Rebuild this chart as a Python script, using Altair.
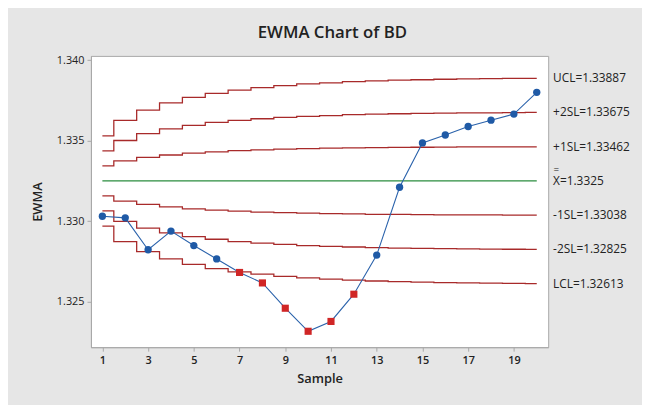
import altair as alt
import pandas as pd

# ---- data ----
samples = list(range(1, 21))
ewma = [1.33031, 1.33021, 1.32823, 1.32939, 1.32849, 1.32766, 1.32682, 1.32617,
        1.32460, 1.32317, 1.32378, 1.32547, 1.32790, 1.33211, 1.33486, 1.33535,
        1.33588, 1.33627, 1.33665, 1.33800]
flagged = [False]*6 + [True]*6 + [False]*8

center = 1.3325
ucl = [1.33530, 1.33626, 1.33689, 1.33734, 1.33768, 1.33794, 1.33814, 1.33829, 1.33842, 1.33852,
       1.33859, 1.33866, 1.33871, 1.33875, 1.33878, 1.33881, 1.33883, 1.33885, 1.33886, 1.33887]
p2sl = [1.33437, 1.33501, 1.33543, 1.33573, 1.33595, 1.33613, 1.33626, 1.33636, 1.33645, 1.33651,
        1.33656, 1.33661, 1.33664, 1.33667, 1.33669, 1.33671, 1.33672, 1.33673, 1.33674, 1.33675]
p1sl = [1.33343, 1.33375, 1.33396, 1.33411, 1.33423, 1.33431, 1.33438, 1.33443, 1.33447, 1.33451,
        1.33453, 1.33455, 1.33457, 1.33458, 1.33459, 1.33460, 1.33461, 1.33462, 1.33462, 1.33462]
m1sl = [1.33157, 1.33125, 1.33104, 1.33089, 1.33077, 1.33069, 1.33062, 1.33057, 1.33053, 1.33050,
        1.33047, 1.33045, 1.33043, 1.33042, 1.33041, 1.33040, 1.33039, 1.33039, 1.33038, 1.33038]
m2sl = [1.33064, 1.32999, 1.32957, 1.32927, 1.32905, 1.32888, 1.32874, 1.32864, 1.32856, 1.32849,
        1.32844, 1.32840, 1.32836, 1.32833, 1.32831, 1.32830, 1.32828, 1.32827, 1.32826, 1.32825]
lcl = [1.32970, 1.32874, 1.32811, 1.32766, 1.32732, 1.32706, 1.32686, 1.32671, 1.32658, 1.32649,
       1.32641, 1.32634, 1.32629, 1.32625, 1.32622, 1.32619, 1.32617, 1.32616, 1.32614, 1.32613]

limit_names = ["UCL", "+2SL", "+1SL", "-1SL", "-2SL", "LCL"]
limit_series = [ucl, p2sl, p1sl, m1sl, m2sl, lcl]
label_texts = ["UCL=1.33887", "+2SL=1.33675", "+1SL=1.33462", "X=1.3325",
               "-1SL=1.33038", "-2SL=1.32825", "LCL=1.32613"]
label_values = [1.33887, 1.33675, 1.33462, 1.3325, 1.33038, 1.32825, 1.32613]

x_ticks = [1, 3, 5, 7, 9, 11, 13, 15, 17, 19]
y_ticks = [1.325, 1.330, 1.335, 1.340]

# ---- tables ----
pts = pd.DataFrame({"Sample": samples, "EWMA": ewma,
                    "flag": ["out" if f else "in" for f in flagged]})
lim_rows = []
for name, ser in zip(limit_names, limit_series):
    for s, v in zip(samples, ser):
        lim_rows.append({"Sample": s, "v": v, "lim": name})
lims = pd.DataFrame(lim_rows)
cen = pd.DataFrame({"Sample": [1, 20], "v": [center, center]})
labs = pd.DataFrame({"t": label_texts, "v": label_values})

FONT = "Open Sans"
xs = alt.Scale(domain=[0.5, 20.5], nice=False, zero=False)
ys = alt.Scale(domain=[1.32218, 1.34026], nice=False, zero=False)

X = alt.X("Sample:Q", scale=xs,
          axis=alt.Axis(values=x_ticks, title="Sample", grid=False, format="d"))
Y = alt.Y("v:Q", scale=ys,
          axis=alt.Axis(values=y_ticks, title="EWMA", grid=False, format=".3f"))

limit_lines = alt.Chart(lims).mark_line(
    interpolate="step", color="#a82a2a", strokeWidth=1.3
).encode(x=X, y=Y, detail="lim:N")

center_line = alt.Chart(cen).mark_line(color="#2a8c3e", strokeWidth=1.3).encode(x=X, y=Y)

ewma_line = alt.Chart(pts).mark_line(color="#2a62ab", strokeWidth=1.1).encode(
    x=alt.X("Sample:Q", scale=xs), y=alt.Y("EWMA:Q", scale=ys))

blue_pts = alt.Chart(pts).transform_filter(alt.datum.flag == "in").mark_point(
    shape="circle", filled=True, size=55, color="#1f5aa6", opacity=1
).encode(x=alt.X("Sample:Q", scale=xs), y=alt.Y("EWMA:Q", scale=ys))

red_pts = alt.Chart(pts).transform_filter(alt.datum.flag == "out").mark_point(
    shape="square", filled=True, size=52, color="#d02626", opacity=1
).encode(x=alt.X("Sample:Q", scale=xs), y=alt.Y("EWMA:Q", scale=ys))

labels = alt.Chart(labs).mark_text(
    align="left", baseline="middle", font=FONT, fontSize=12, color="#222222"
).encode(x=alt.value(468), y=alt.Y("v:Q", scale=ys), text="t:N")

xbar = alt.Chart(pd.DataFrame({"v": [center]})).mark_text(
    align="left", baseline="middle", font=FONT, fontSize=10, color="#222222", dy=-11
).encode(x=alt.value(468.5), y=alt.Y("v:Q", scale=ys), text=alt.value("="))

chart = alt.layer(limit_lines, center_line, ewma_line, blue_pts, red_pts, labels, xbar).properties(
    width=463, height=295,
    padding={"left": 84, "top": 46, "right": 95, "bottom": 56},
    autosize=alt.AutoSizeParams(type="none"),
    background="#e6e6e6",
    title=alt.TitleParams("EWMA Chart of BD", font=FONT, fontSize=17, fontWeight=600,
                          color="#222222", anchor="middle", dx=13, offset=12),
).configure_view(
    fill="white", stroke="#a8a8a8", strokeWidth=1
).configure_axis(
    domainColor="#a8a8a8", tickColor="#a8a8a8", tickSize=4,
    labelFont=FONT, labelFontSize=11, labelColor="#222222",
    titleFont=FONT, titleFontSize=13, titleFontWeight=600, titleColor="#222222",
).configure_axisX(
    labelFontWeight=600, titlePadding=8, labelPadding=3
).configure_axisY(
    titlePadding=12, labelPadding=3
)

chart.save("out.html", embed_options={"renderer": "svg", "actions": False})
